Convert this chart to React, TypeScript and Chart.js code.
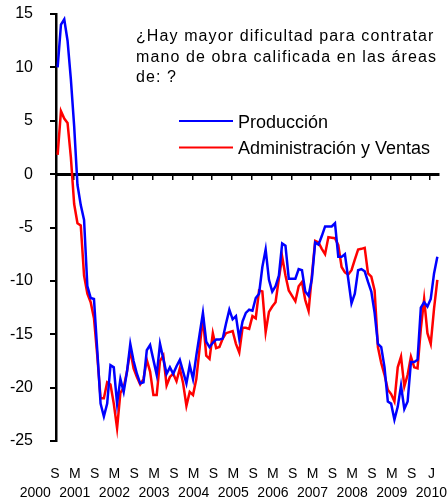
import React, { useEffect, useRef } from 'react';
import { Chart, registerables } from 'chart.js';

Chart.register(...registerables);

// ---- DATA ----
const START_YEAR = 2000;
const START_MONTH = 8; // septiembre
const MES = ['ene', 'feb', 'mar', 'abr', 'may', 'jun', 'jul', 'ago', 'sep', 'oct', 'nov', 'dic'];

const produccion = [
  10.0, 14.0, 14.5, 12.5, 8.9, 4.5, -1.0, -2.9, -4.3, -10.5, -11.6, -11.7, -16.5, -21.5, -22.7, -21.5,
  -17.9, -18.1, -21.5, -19.2, -20.4, -18.5, -15.9, -17.5, -18.7, -19.6, -19.5, -16.5,
  -16.0, -17.4, -18.8, -15.9, -17.3, -18.7, -18.1, -18.7, -18.0, -17.4, -18.5, -19.6, -17.9, -19.2,
  -17.0, -15.0, -13.0, -15.7, -16.2, -15.8, -15.5, -15.5, -15.4, -14.0, -12.7, -13.6, -13.3, -15.4,
  -13.8, -13.0, -12.7, -12.8,
  -11.6, -11.2, -8.7, -7.06, -9.9, -11.0, -10.5, -9.5, -6.5, -6.7, -9.8, -9.8, -9.8, -8.9, -9.0,
  -11.0, -11.4, -9.8, -6.4, -6.6, -5.8, -4.9, -4.9, -4.9, -4.6, -7.75, -7.75, -7.5, -9.8, -12.1,
  -11.2, -9.0, -8.9, -9.1, -10.1, -11.0, -13.0, -15.9, -16.2, -18.1, -21.3, -21.5, -23.0, -21.8,
  -19.8, -22.0, -21.3, -17.6, -17.6, -17.4, -12.5, -12.0, -12.4, -11.7, -9.3, -7.75,
];

const administracion = [
  1.8, 5.9, 5.2, 4.8, 1.6, -2.8, -4.6, -4.8, -9.5, -11.2, -12.0, -13.5, -17.0, -21.0, -21.0, -19.5,
  -19.7, -21.5, -23.8, -20.5, -20.0, -18.5, -16.5, -18.2, -19.0, -19.7, -19.2, -17.4,
  -18.5, -20.7, -20.7, -17.5, -17.0, -19.8, -19.0, -18.7, -19.4, -18.2, -19.6, -21.7, -20.4, -20.7,
  -19.2, -16.3, -13.4, -17.0, -17.3, -14.9, -16.3, -16.2, -15.4, -14.9, -14.8, -14.7, -15.9, -16.7,
  -14.4, -14.4, -14.5, -13.3,
  -13.5, -10.9, -11.0, -14.8, -12.9, -12.4, -12.0, -9.8, -7.75, -9.5, -10.9, -11.4, -11.9, -10.5,
  -10.1, -11.8, -12.8, -9.5, -6.25, -6.4, -7.0, -7.5, -5.9, -5.95, -6.0, -6.65, -8.7, -9.2, -9.4, -9.0,
  -8.0, -7.06, -7.0, -6.9, -9.3, -9.6, -10.9, -16.2, -17.7, -18.8, -20.2, -20.6, -21.3, -18.1,
  -17.1, -19.9, -18.8, -17.1, -18.1, -18.2, -14.5, -11.7, -14.9, -15.9, -12.6, -9.9,
];

const months = produccion.map((_, i) => {
  const m = START_MONTH + i;
  return `${MES[m % 12]}-${START_YEAR + Math.floor(m / 12)}`;
});

const letterLabels = ['S', 'M', 'S', 'M', 'S', 'M', 'S', 'M', 'S', 'M', 'S', 'M', 'S', 'M', 'S', 'M', 'S', 'M', 'S', 'J'];
const yearLabels = ['2000', '2001', '2002', '2003', '2004', '2005', '2006', '2007', '2008', '2009', '2010'];
const yTicks = [15, 10, 5, 0, -5, -10, -15, -20, -25];
const seriesNames = ['Producción', 'Administración y Ventas'];
const titleLines = ['¿Hay mayor dificultad para contratar', 'mano de obra calificada en las áreas', 'de: ?'];

const FONT = '"Liberation Sans", Arial, sans-serif';
const N = months.length;

const overlayPlugin = {
  id: 'overlayText',
  afterDraw(chart: any) {
    const ctx = chart.ctx as CanvasRenderingContext2D;
    const area = chart.chartArea;
    ctx.save();
    ctx.fillStyle = '#000';
    ctx.textAlign = 'left';
    ctx.textBaseline = 'alphabetic';
    ctx.font = `16px ${FONT}`;
    (ctx as any).letterSpacing = '1.1px';
    const tx = area.left + 80;
    titleLines.forEach((t, i) => ctx.fillText(t, tx, area.top + 27 + i * 20.5));
    (ctx as any).letterSpacing = '0px';
    ctx.font = `18px ${FONT}`;
    chart.data.datasets.forEach((ds: any, i: number) => {
      const y = area.top + 107 + i * 26.6;
      ctx.strokeStyle = ds.borderColor;
      ctx.lineWidth = 2;
      ctx.beginPath();
      ctx.moveTo(area.left + 123, y);
      ctx.lineTo(area.left + 177, y);
      ctx.stroke();
      ctx.fillText(ds.label, area.left + 182, y + 6.5);
    });
    ctx.restore();
  },
};

export default function App() {
  const ref = useRef<HTMLCanvasElement | null>(null);

  useEffect(() => {
    if (!ref.current) return;
    const chart = new Chart(ref.current, {
      type: 'line',
      data: {
        labels: months,
        datasets: [
          {
            label: seriesNames[0],
            data: produccion.map((y, i) => ({ x: i, y })),
            borderColor: '#0000FF',
            borderWidth: 2.5,
            pointRadius: 0,
            tension: 0,
            fill: false,
          },
          {
            label: seriesNames[1],
            data: administracion.map((y, i) => ({ x: i, y })),
            borderColor: '#FF0000',
            borderWidth: 2.5,
            pointRadius: 0,
            tension: 0,
            fill: false,
          },
        ],
      },
      options: {
        animation: false,
        responsive: false,
        layout: { padding: { top: 14, right: 9, bottom: 0, left: 0 } },
        plugins: { legend: { display: false }, tooltip: { enabled: false }, title: { display: false } },
        font: { family: FONT },
        scales: {
          x: {
            type: 'linear',
            min: -0.5,
            max: N - 0.5,
            position: { y: 0 } as any,
            ticks: { display: false },
            grid: { drawOnChartArea: false, drawTicks: true, tickLength: 4, color: '#000', lineWidth: 1.5 },
            border: { display: true, color: '#000', width: 3 },
            afterBuildTicks: (s: any) => {
              s.ticks = letterLabels.map((_, k) => ({ value: -1.2 + 6 * k })).filter((t) => t.value > -0.5);
            },
            afterFit: (s: any) => {
              s.paddingLeft = 0;
              s.paddingRight = 0;
              s.paddingTop = 0;
              s.paddingBottom = 0;
            },
          },
          xl: {
            type: 'linear',
            min: -0.5,
            max: N - 0.5,
            position: 'bottom',
            grid: { display: false, drawTicks: false },
            border: { display: false },
            ticks: {
              autoSkip: false,
              maxRotation: 0,
              minRotation: 0,
              padding: 24,
              color: '#000',
              font: { family: FONT, size: 14, lineHeight: 18.5 / 14 },
              callback: (_v: any, i: number) => {
                const k = i - 1;
                if (k < 0) return ['', yearLabels[0]];
                if (k % 2 === 1) return [letterLabels[k], yearLabels[(k + 1) / 2]];
                return letterLabels[k];
              },
            },
            afterBuildTicks: (s: any) => {
              const arr = [{ value: -0.8 - 6 }];
              letterLabels.forEach((_, k) => arr.push({ value: -0.8 + 6 * k }));
              s.ticks = arr;
            },
            afterFit: (s: any) => {
              s.height = 61;
              s.paddingLeft = 0;
              s.paddingRight = 0;
              s.paddingTop = 0;
              s.paddingBottom = 0;
            },
          } as any,
          y: {
            type: 'linear',
            min: -25,
            max: 15,
            ticks: { stepSize: 5, color: '#000', padding: 17, font: { family: FONT, size: 16 } },
            grid: { drawOnChartArea: false, drawTicks: true, tickLength: 6, color: '#000', lineWidth: 2 },
            border: { display: true, color: '#000', width: 2.5 },
            afterBuildTicks: (s: any) => {
              s.ticks = yTicks.map((v) => ({ value: v }));
            },
            afterFit: (s: any) => {
              s.width = 56;
              s.paddingTop = 0;
              s.paddingBottom = 0;
              s.paddingLeft = 0;
              s.paddingRight = 0;
            },
          },
        },
      } as any,
      plugins: [overlayPlugin],
    });
    return () => chart.destroy();
  }, []);

  return (
    <div style={{ position: 'fixed', left: 0, top: 0, width: 448, height: 502, background: '#fff' }}>
      <canvas ref={ref} width={448} height={502} style={{ display: 'block', width: 448, height: 502 }} />
    </div>
  );
}
